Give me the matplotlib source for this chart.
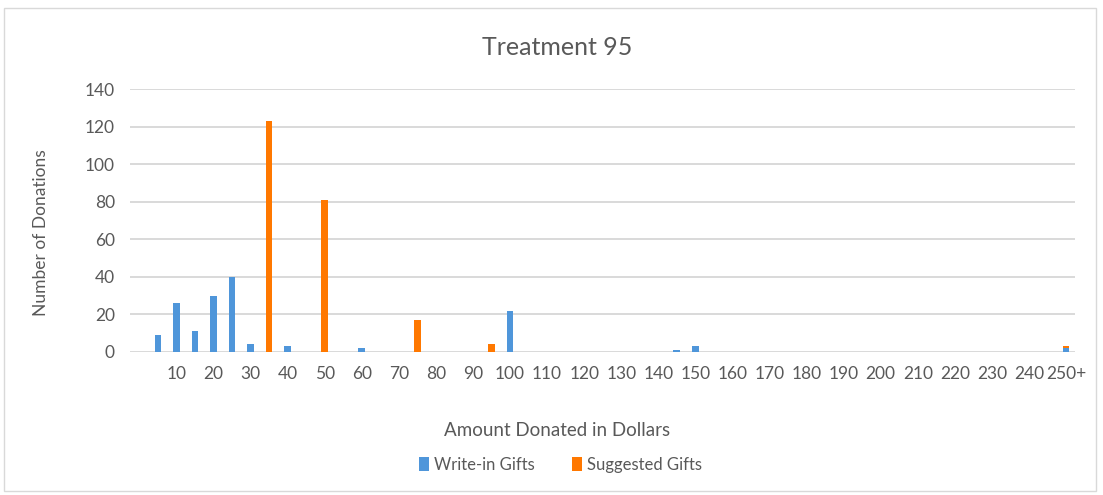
import matplotlib.pyplot as plt
import numpy as np
from matplotlib.patches import Rectangle

plt.rcParams['font.family'] = ['Lato', 'DejaVu Sans']

# donation amount bins, $5 steps, last bin is everything from 250 up
amounts = [str(a) for a in range(0, 250, 5)] + ['250+']
write_in = {5: 9, 10: 26, 15: 11, 20: 30, 25: 40, 30: 4, 40: 3, 60: 2,
            100: 22, 145: 1, 150: 3, '250+': 2}
suggested = {35: 123, 50: 81, 75: 17, 95: 4, '250+': 1}

write_vals = np.array([write_in.get(a if a == '250+' else int(a), 0) for a in amounts])
sugg_vals = np.array([suggested.get(a if a == '250+' else int(a), 0) for a in amounts])

blue = '#4f96da'
orange = '#ff7800'
txt = '#595959'

fig = plt.figure(figsize=(11.03, 4.95), dpi=100)
ax = fig.add_axes([0.1179, 0.2889, 0.857, 0.5313])

x = np.arange(len(amounts))
ax.bar(x, write_vals, width=0.36, color=blue, label='Write-in Gifts', zorder=3)
ax.bar(x, sugg_vals, width=0.36, bottom=write_vals, color=orange,
       label='Suggested Gifts', zorder=3)

ax.set_xlim(-0.5, len(amounts) - 0.5)
ax.set_ylim(0, 140)
ax.set_yticks(np.arange(0, 141, 20))
ax.grid(axis='y', color='#d9d9d9', linewidth=1.4, zorder=0)
ax.set_axisbelow(True)

lab_idx = list(range(2, len(amounts), 2))
ax.set_xticks(lab_idx)
ax.set_xticklabels([amounts[i] for i in lab_idx], fontsize=12.5, color=txt)
ax.tick_params(axis='y', labelsize=12.5, labelcolor=txt, length=0, pad=11)
ax.tick_params(axis='x', length=0, pad=10)
for s in ax.spines.values():
    s.set_visible(False)

fig.text(0.505, 0.905, 'Treatment 95', ha='center', va='center',
         fontsize=18, color=txt)
fig.text(0.505, 0.131, 'Amount Donated in Dollars', ha='center', va='center',
         fontsize=13.5, color=txt)
fig.text(0.037, 0.53, 'Number of Donations', ha='center', va='center',
         rotation=90, fontsize=12.5, color=txt)

fig.legend(loc='center', bbox_to_anchor=(0.508, 0.061), ncol=2, frameon=False,
           fontsize=12, labelcolor=txt, handlelength=0.6, handleheight=0.9,
           handletextpad=0.3, columnspacing=2.2)

fig.patches.append(Rectangle((0.004, 0.008), 0.99, 0.975, transform=fig.transFigure,
                             fill=False, edgecolor='#d9d9d9', linewidth=1))

fig.savefig('out.png', dpi=100)
